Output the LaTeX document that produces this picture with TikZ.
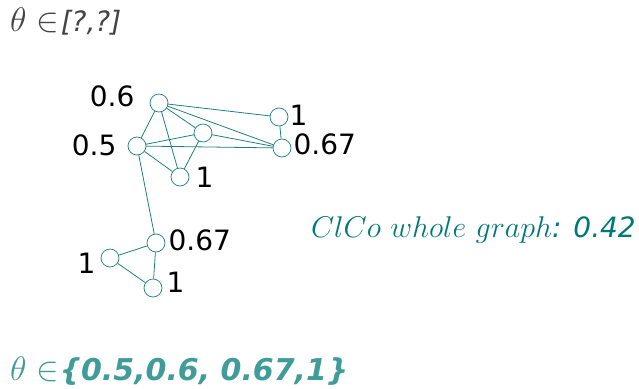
\RequirePackage{fix-cm}
\documentclass[tikz,border=0pt]{standalone}
\usepackage{fontspec}
\setmainfont{DejaVu Sans}
\usetikzlibrary{positioning}
\definecolor{tealline}{RGB}{30,128,128}
\definecolor{tealtext}{RGB}{0,120,120}
\definecolor{tealsoft}{RGB}{64,156,152}
\definecolor{titlegrey}{RGB}{68,68,68}
\newcommand{\bigmath}[1]{{\fontsize{34}{34}\selectfont$#1$}}

\begin{document}
\begin{tikzpicture}[
    x=1pt, y=-1pt,
    vtx/.style={circle,draw=tealline,fill=white,minimum size=18pt,inner sep=0pt,line width=0.7pt},
    every label/.style={font=\fontsize{28}{28}\selectfont,inner sep=0pt},
    every edge/.style={draw=tealline,line width=0.8pt}
  ]
    \useasboundingbox (0,0) rectangle (639,388);

    % upper component
    \node[vtx,label={[label distance=15pt,yshift=7pt]left:0.6}]  (a06) at (159,103) {};
    \node[vtx,label={[label distance=1pt,yshift=2pt]right:1}]     (a1)  at (279,117) {};
    \node[vtx,label={[label distance=2pt,yshift=4pt]right:0.67}]  (a067) at (282,148) {};
    \node[vtx] (amid) at (203,133) {};
    \node[vtx,label={[label distance=11pt,yshift=1pt]left:0.5}]   (a05) at (137,146) {};
    \node[vtx,label={[label distance=6pt]right:1}]                (a1b) at (180,177) {};

    % lower component
    \node[vtx,label={[label distance=3pt,yshift=3pt]right:0.67}]  (b067) at (156,243) {};
    \node[vtx,label={[label distance=5pt,yshift=-5pt]left:1}]     (b1)   at (110,258) {};
    \node[vtx,label={[label distance=4pt,yshift=6pt]right:1}]     (b1b)  at (153,288) {};

    \path (a06) edge (a1)
          (a06) edge (a067)
          (a06) edge (amid)
          (a06) edge (a05)
          (a06) edge (a1b)
          (a05) edge (amid)
          (a05) edge (a067)
          (a05) edge (a1b)
          (amid) edge (a1b)
          (amid) edge (a067)
          (a1) edge (a067)
          (a05) edge (b067)
          (b067) edge (b1)
          (b067) edge (b1b)
          (b1) edge (b1b);

    % texts
    \node[anchor=base west,inner sep=0pt,text=titlegrey,font=\fontsize{28}{28}\selectfont]
      (title) at (10,31) {\bigmath{\theta\;{\in}}\kern2pt\textit{[?,?]}};
    \node[anchor=base east,inner sep=0pt,text=tealtext,font=\fontsize{28}{28}\selectfont]
      (score) at (636,237) {{\fontsize{30}{30}\selectfont$ClCo\ whole\ graph$}\textit{: 0.42}};
    \node[anchor=base west,inner sep=0pt,text=tealsoft,font=\fontsize{30}{30}\selectfont]
      (range) at (10,380) {\bigmath{\theta\;{\in}}\kern1pt\textbf{\textit{\{0.5,0.6, 0.67,1\}}}};
\end{tikzpicture}
\end{document}
